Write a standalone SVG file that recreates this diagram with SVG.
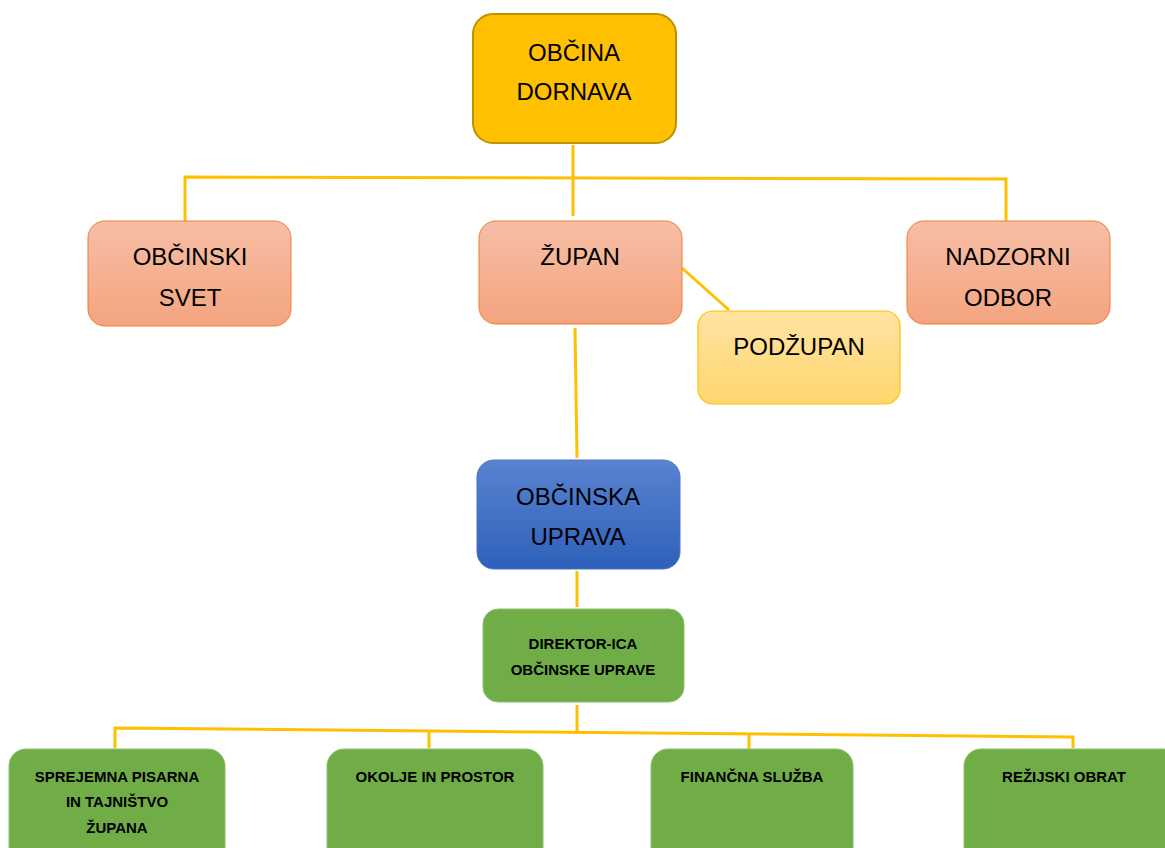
<svg xmlns="http://www.w3.org/2000/svg" width="1165" height="848" viewBox="0 0 1165 848">
<defs>
<linearGradient id="gSalmon" x1="0" y1="0" x2="0" y2="1"><stop offset="0" stop-color="#F6BEA6"/><stop offset="1" stop-color="#F4A47F"/></linearGradient>
<linearGradient id="gPale" x1="0" y1="0" x2="0" y2="1"><stop offset="0" stop-color="#FFE3A3"/><stop offset="1" stop-color="#FFD66E"/></linearGradient>
<linearGradient id="gBlue" x1="0" y1="0" x2="0" y2="1"><stop offset="0" stop-color="#5A83D0"/><stop offset="1" stop-color="#2E60BA"/></linearGradient>
</defs>
<style>
.ln{stroke:#FFC000;stroke-width:3;fill:none}
.big{font-family:"Liberation Sans",Arial,sans-serif;font-size:24px;fill:#000;text-anchor:middle}
.sm{font-family:"Liberation Sans",Arial,sans-serif;font-size:15px;font-weight:bold;fill:#000;text-anchor:middle}
.salmon{fill:url(#gSalmon);stroke:#ED7D31;stroke-width:1}
.green{fill:#70AD47;stroke:#8BC06A;stroke-width:1}
</style>
<g id="connectors">
<line class="ln" x1="573" y1="145" x2="573" y2="216"/>
<polyline class="ln" points="185,221 185,177 1006,179 1006,221"/>
<line class="ln" x1="682" y1="268" x2="729" y2="310"/>
<line class="ln" x1="575" y1="328" x2="577" y2="458"/>
<line class="ln" x1="577" y1="571" x2="577" y2="607"/>
<line class="ln" x1="577" y1="705" x2="577" y2="731"/>
<polyline class="ln" points="115,748 115,728 1073,737 1073,748"/>
<line class="ln" x1="429" y1="732" x2="429" y2="748"/>
<line class="ln" x1="749" y1="735" x2="749" y2="749"/>
</g>
<g id="obcina-dornava">
<rect x="473" y="14" width="203" height="129" rx="20" fill="#FFC000" stroke="#BF9000" stroke-width="2"/>
<text class="big" x="574" y="61">OBČINA</text>
<text class="big" x="574" y="100">DORNAVA</text>
</g>
<g id="obcinski-svet">
<rect class="salmon" x="88" y="221" width="203" height="105" rx="17"/>
<text class="big" x="190" y="265">OBČINSKI</text>
<text class="big" x="190" y="306">SVET</text>
</g>
<g id="zupan">
<rect class="salmon" x="479" y="221" width="203" height="103" rx="17"/>
<text class="big" x="580" y="265">ŽUPAN</text>
</g>
<g id="nadzorni-odbor">
<rect class="salmon" x="907" y="221" width="203" height="103" rx="17"/>
<text class="big" x="1008" y="265">NADZORNI</text>
<text class="big" x="1008" y="306">ODBOR</text>
</g>
<g id="podzupan">
<rect x="698" y="311" width="202" height="93" rx="15" fill="url(#gPale)" stroke="#FFC000" stroke-width="1.2"/>
<text class="big" x="799" y="355">PODŽUPAN</text>
</g>
<g id="obcinska-uprava">
<rect x="477" y="460" width="203" height="109" rx="17" fill="url(#gBlue)" stroke="#4A74C4" stroke-width="1"/>
<text class="big" x="578" y="505">OBČINSKA</text>
<text class="big" x="578" y="545">UPRAVA</text>
</g>
<g id="direktor">
<rect class="green" x="483" y="609" width="201" height="93" rx="15"/>
<text class="sm" x="583" y="649">DIREKTOR-ICA</text>
<text class="sm" x="583" y="675">OBČINSKE UPRAVE</text>
</g>
<g id="sprejemna-pisarna">
<rect class="green" x="9" y="749" width="216" height="120" rx="17"/>
<text class="sm" x="117" y="782">SPREJEMNA PISARNA</text>
<text class="sm" x="117" y="807">IN TAJNIŠTVO</text>
<text class="sm" x="117" y="833">ŽUPANA</text>
</g>
<g id="okolje-in-prostor">
<rect class="green" x="327" y="749" width="216" height="120" rx="17"/>
<text class="sm" x="435" y="782">OKOLJE IN PROSTOR</text>
</g>
<g id="financna-sluzba">
<rect class="green" x="651" y="749" width="202" height="120" rx="17"/>
<text class="sm" x="752" y="782">FINANČNA SLUŽBA</text>
</g>
<g id="rezijski-obrat">
<rect class="green" x="964" y="749" width="216" height="120" rx="17"/>
<text class="sm" x="1064" y="782">REŽIJSKI OBRAT</text>
</g>
</svg>
